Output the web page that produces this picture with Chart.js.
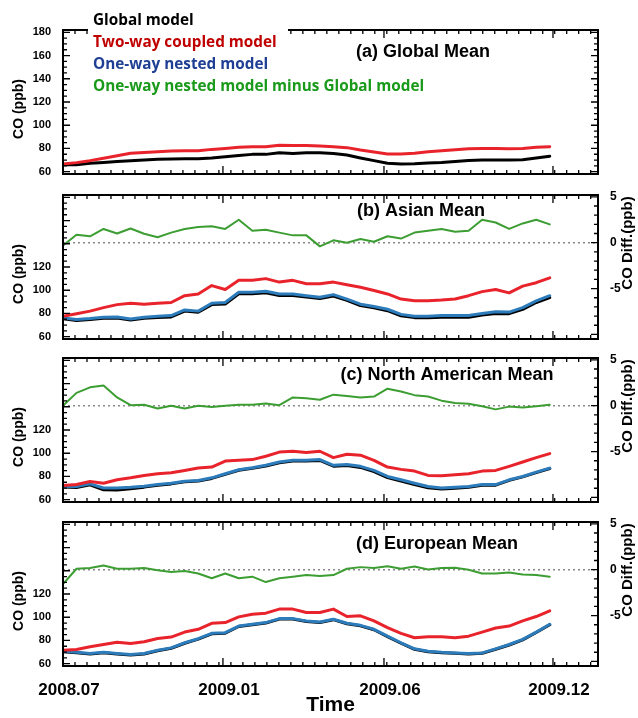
<!DOCTYPE html>
<html>
<head>
<meta charset="utf-8">
<script src="https://cdn.jsdelivr.net/npm/chart.js@4.4.1/dist/chart.umd.min.js"></script>
<style>
  html, body { margin: 0; padding: 0; background: #fff; }
  #wrap { position: relative; width: 638px; height: 718px; }
  #wrap canvas { position: absolute; left: 0; top: 0; }
</style>
</head>
<body>
<div id="wrap">
  <canvas id="panelA" width="638" height="718"></canvas>
  <canvas id="panelB" width="638" height="718"></canvas>
  <canvas id="panelC" width="638" height="718"></canvas>
  <canvas id="panelD" width="638" height="718"></canvas>
</div>
<script>
// time axis: ~half-month steps from 2008.07 to end of 2009.11
const timeSteps = [0,1,2,3,4,5,6,7,8,9,10,11,12,13,14,15,16,17,18,19,20,21,22,23,24,25,26,27,28,29,30,31,32,33,34,35,36];
const xTickValues = [0, 11.83, 23.74, 36.24];
const xTickLabels = ["2008.07", "2009.01", "2009.06", "2009.12"];
const coTicksFull = [60, 80, 100, 120, 140, 160, 180];
const coTicksLow = [60, 80, 100, 120];
const diffTicks = [-5, 0, 5];

const legendNames = ["Global model", "Two-way coupled model", "One-way nested model", "One-way nested model minus Global model"];
const panelTitles = ["(a) Global Mean", "(b) Asian Mean", "(c) North American Mean", "(d) European Mean"];

// (a) Global mean
const globalA  = [66,66,67.2,68,68.8,69.5,70,70.6,70.9,71.2, 71.2,71.8,72.9,74,74.9,74.9,76.3,75.7,76.3,76.3, 75.7,74.3,71.8,69.5,67.2,66.6,66.9,67.5,68,68.8, 69.7,70,70,70,70.3,71.8,73.3];
const coupledA = [66.6,67.8,69.5,71.5,73.7,75.8,76.6,77.2,77.8,78, 78,79.2,80,81,81.5,81.5,82.7,82.5,82.6,82.1, 81.5,80.7,78.6,76.9,75.2,75.2,75.8,77.2,78,78.9, 79.8,80,80,79.8,80,81,81.5];

// (b) Asian mean
const globalB  = [75.5,74,74.8,75.8,76,74.3,75.8,76.5,77,82, 81,87.6,88.2,97,97,97.8,95.5,95.5,94.2,92.8, 95,91.2,86.8,84.8,82.4,78,76.4,76.3,76.8,76.8, 76.8,78.6,80,79.8,83.5,89.4,93.6];
const coupledB = [77.6,79.7,82,85,87.6,88.8,88,88.8,89.4,95.3, 96.7,104,100.6,108.5,108.5,110,107,108.5,105.6,105.6, 107,104.7,102.6,99.7,96.8,92.4,90.9,90.9,91.5,92.4, 95.3,98.8,100.6,97.7,103.5,106.5,110.6];
const nestedB  = [76.2,74.7,75.6,76.8,77,75.3,76.8,77.6,78.2,83, 82,88.8,89.4,98.2,98.2,99.1,96.8,96.8,95.3,93.9, 96.2,92.4,88,85.9,83.6,79.2,77.6,77.6,78.2,78.2, 78.2,80,81.4,81.2,85,90.9,95.3];
const diffB    = [-0.3,0.86,0.7,1.5,1.0,1.55,0.97,0.6,1.1,1.5, 1.7,1.8,1.5,2.5,1.3,1.4,1.1,0.8,0.8,-0.4, 0.26,0,0.4,0.1,0.7,0.45,1.1,1.3,1.5,1.2, 1.3,2.5,2.2,1.5,2.1,2.5,2.0];

// (c) North American mean
const globalC  = [71,70.5,72.8,68.5,68.3,69.5,70.8,72.4,73.6,75.4, 76,78.3,81.8,85.3,87,89,91.8,93.2,93.2,93.8, 88.8,89.4,87.8,84.2,79,76,73,70.3,69.2,69.9, 70.6,72.4,72.5,76.6,79.6,83.3,86.8];
const coupledC = [72.2,73,75.7,74.2,77.1,78.8,80.9,82.3,83.2,85.2, 87.2,88.1,93.3,93.9,94.5,97.4,101,101.7,100.6,101.7, 96.2,99.1,98.3,93.9,88.1,86.1,84.6,80.9,80.6,81.5, 82.3,84.6,85.2,88.7,92.4,96.2,99.7];
const nestedC  = [71.3,71.3,73.6,70.1,70.1,70.7,71.6,73,74.2,75.9, 76.5,78.8,82.3,85.8,87.5,89.6,92.4,93.9,93.9,94.5, 89.6,90.2,88.7,85.2,80,77.1,74.2,71.3,70.1,70.7, 71.3,73,73,77.1,80,83.7,87.2];
const diffC    = [0,1.4,2.0,2.2,0.9,0.05,0.1,-0.3,0,-0.3, 0,-0.15,0,0.1,0.1,0.25,0.05,0.9,0.8,0.65, 1.2,1.05,0.9,1.0,1.85,1.55,1.15,1.0,0.55,0.3, 0.22,-0.05,-0.4,-0.1,-0.2,-0.05,0.1];

// (d) European mean
const globalD  = [70.3,69.4,68.3,69.4,68.3,67.4,68.3,71.2,73.2,77.6, 81.1,85.7,86.3,92,93.5,95,98.4,98.4,96.4,95.5, 97.9,94.4,92.6,89.2,83.3,77.6,72.4,70.3,69.4,68.9, 68.3,68.9,72.4,76.1,80.5,86.8,93.5];
const coupledD = [71.6,72.2,74.5,76.5,78.5,77.4,78.9,81.7,82.9,87.2, 89.6,94.8,95.4,100.3,102.6,103.5,107,107,104.1,104.1, 107,100.6,101.2,96.8,91,86.1,82.3,83.2,83.2,82.3, 83.7,87.2,90.7,92.4,96.8,100.6,105.5];
const nestedD  = [70.7,69.8,68.7,69.8,68.7,67.8,68.7,71.6,73.6,78, 81.5,86.1,86.7,92.4,93.9,95.4,98.8,98.8,96.8,95.9, 98.3,94.8,93,89.6,83.7,78,72.8,70.7,69.8,69.3, 68.7,69.3,72.8,76.5,80.9,87.2,93.9];
const diffD    = [-1.56,0.1,0.18,0.45,0.1,0.1,0.18,-0.07,-0.24,-0.14, -0.42,-0.94,-0.42,-0.94,-0.76,-1.35,-0.94,-0.76,-0.59,-0.7, -0.59,0.1,0.28,0.18,0.38,0.1,0.35,0.03,0.18,0.2, 0,-0.42,-0.42,-0.31,-0.52,-0.59,-0.76];

const X_MAX = 39.57;
const X_MINOR = 0.887;
const FONT = '"Liberation Sans", Arial, sans-serif';
const COL = { global: "#000000", coupled: "#e8232b", nested: "#2c7bba", diff: "#3c9e32" };
const LEGEND_COL = ["#000000", "#c00000", "#1f3f94", "#1a9a1a"];

const panelDecor = {
  id: "panelDecor",
  afterDatasetsDraw(chart, args, o) {
    const { ctx, chartArea: a, scales } = chart;
    const xs = scales.x, ys = scales.y, yr = scales.y2;
    ctx.save();
    ctx.strokeStyle = "#000";
    ctx.lineWidth = 1.3;
    ctx.beginPath();
    const seg = (x1, y1, x2, y2) => { ctx.moveTo(x1, y1); ctx.lineTo(x2, y2); };
    for (let v = X_MINOR; v < X_MAX; v += X_MINOR) {
      const px = xs.getPixelForValue(v);
      seg(px, a.bottom, px, a.bottom - 4);
      seg(px, a.top, px, a.top + 4);
    }
    xTickValues.forEach(v => {
      const px = xs.getPixelForValue(v);
      seg(px, a.bottom, px, a.bottom - 8);
      seg(px, a.top, px, a.top + 8);
    });
    for (let v = 60; v <= 180; v += 5) {
      const py = ys.getPixelForValue(v);
      const len = v % 20 === 0 ? 7 : 4;
      seg(a.left, py, a.left + len, py);
      if (!yr) seg(a.right, py, a.right - len, py);
    }
    if (yr) {
      for (let v = -10; v <= 5; v++) {
        const py = yr.getPixelForValue(v);
        const len = v % 5 === 0 ? 7 : 4;
        seg(a.right, py, a.right - len, py);
      }
    }
    ctx.stroke();
    ctx.lineWidth = 2;
    ctx.strokeRect(a.left, a.top, a.right - a.left, a.bottom - a.top);

    ctx.fillStyle = "#000";
    ctx.textAlign = "center";
    ctx.textBaseline = "middle";
    ctx.font = "bold 18px " + FONT;
    ctx.fillText(o.title, o.titleX, o.titleY);

    ctx.font = "bold 14px " + FONT;
    ctx.save();
    ctx.translate(19, a.top + 79);
    ctx.rotate(-Math.PI / 2);
    ctx.fillText("CO (ppb)", 0, 0);
    ctx.restore();

    if (yr) {
      ctx.font = "bold 15px " + FONT;
      ctx.save();
      ctx.translate(628, a.top + 48);
      ctx.rotate(-Math.PI / 2);
      ctx.fillText("CO Diff.(ppb)", 0, 0);
      ctx.restore();
    }

    if (o.legend) {
      ctx.fillStyle = "#fff";
      ctx.fillRect(88, 4, 200, 32);
      ctx.textAlign = "left";
      ctx.font = 'bold 15.3px "Open Sans", ' + FONT;
      const rows = [21, 43, 65, 87];
      legendNames.forEach((t, i) => {
        ctx.fillStyle = LEGEND_COL[i];
        ctx.fillText(t, 93, rows[i]);
      });
    }
    ctx.restore();
  }
};

function line(data, color, width, order, axis) {
  return {
    data, borderColor: color, borderWidth: width, order,
    yAxisID: axis || "y", pointRadius: 0, fill: false, tension: 0,
    borderJoinStyle: "round", borderCapStyle: "round"
  };
}

function buildPanel(id, p) {
  const scales = {
    x: {
      type: "linear", min: 0, max: X_MAX, display: p.showX,
      afterFit: s => { s.height = p.showX ? 52 : 0; },
      afterBuildTicks: s => { s.ticks = xTickValues.map(v => ({ value: v })); },
      ticks: {
        autoSkip: false, maxRotation: 0, color: "#000", padding: 6, labelOffset: 6,
        font: { family: FONT, size: 17, weight: "bold" },
        callback: (v, i) => xTickLabels[i]
      },
      grid: { display: false }, border: { display: false },
      title: { display: true, text: "Time", color: "#000", padding: 0, font: { family: FONT, size: 21, weight: "bold" } }
    },
    y: {
      position: "left", min: 58, max: 182,
      afterFit: s => { s.width = 63; },
      afterBuildTicks: s => { s.ticks = p.coTicks.map(v => ({ value: v })); },
      ticks: { autoSkip: false, color: "#000", padding: 4, font: { family: FONT, size: 11, weight: "bold" } },
      grid: { display: false }, border: { display: false }
    }
  };
  if (p.diff) {
    scales.y2 = {
      position: "right", min: -10.5, max: 5.2,
      afterFit: s => { s.width = 40; },
      afterBuildTicks: s => { s.ticks = diffTicks.map(v => ({ value: v })); },
      ticks: { autoSkip: false, color: "#000", padding: 4, font: { family: FONT, size: 12, weight: "bold" } },
      grid: { display: false }, border: { display: false }
    };
  }
  const datasets = [
    line(p.global, COL.global, 3, 4),
    line(p.coupled, COL.coupled, 3, 2)
  ];
  if (p.nested) datasets.push(line(p.nested, COL.nested, 3, 3));
  if (p.diffSeries) {
    datasets.push(line(p.diffSeries, COL.diff, 2, 1, "y2"));
    datasets.push({
      data: [{ x: 0, y: 0 }, { x: X_MAX, y: 0 }], yAxisID: "y2", order: 9,
      borderColor: "#8a8a8a", borderWidth: 1.5, borderDash: [2, 3], pointRadius: 0, fill: false
    });
  }
  return new Chart(document.getElementById(id), {
    type: "line",
    data: { labels: timeSteps, datasets },
    options: {
      responsive: false,
      animation: false,
      events: [],
      layout: { padding: { top: p.top, bottom: p.showX ? 0 : 718 - p.bottom, left: 0, right: p.diff ? 0 : 40 } },
      plugins: {
        legend: { display: false },
        tooltip: { enabled: false },
        panelDecor: { title: p.title, titleX: p.titleX, titleY: p.titleY, legend: p.legend }
      },
      scales
    },
    plugins: [panelDecor]
  });
}

buildPanel("panelA", {
  top: 30, bottom: 174, showX: false, diff: false, legend: true, coTicks: coTicksFull,
  title: panelTitles[0], titleX: 423, titleY: 52,
  global: globalA, coupled: coupledA
});
buildPanel("panelB", {
  top: 195, bottom: 339, showX: false, diff: true, legend: false, coTicks: coTicksLow,
  title: panelTitles[1], titleX: 421, titleY: 211,
  global: globalB, coupled: coupledB, nested: nestedB, diffSeries: diffB
});
buildPanel("panelC", {
  top: 358, bottom: 502, showX: false, diff: true, legend: false, coTicks: coTicksLow,
  title: panelTitles[2], titleX: 447, titleY: 375,
  global: globalC, coupled: coupledC, nested: nestedC, diffSeries: diffC
});
buildPanel("panelD", {
  top: 522, bottom: 666, showX: true, diff: true, legend: false, coTicks: coTicksLow,
  title: panelTitles[3], titleX: 437, titleY: 544,
  global: globalD, coupled: coupledD, nested: nestedD, diffSeries: diffD
});
</script>
</body>
</html>
